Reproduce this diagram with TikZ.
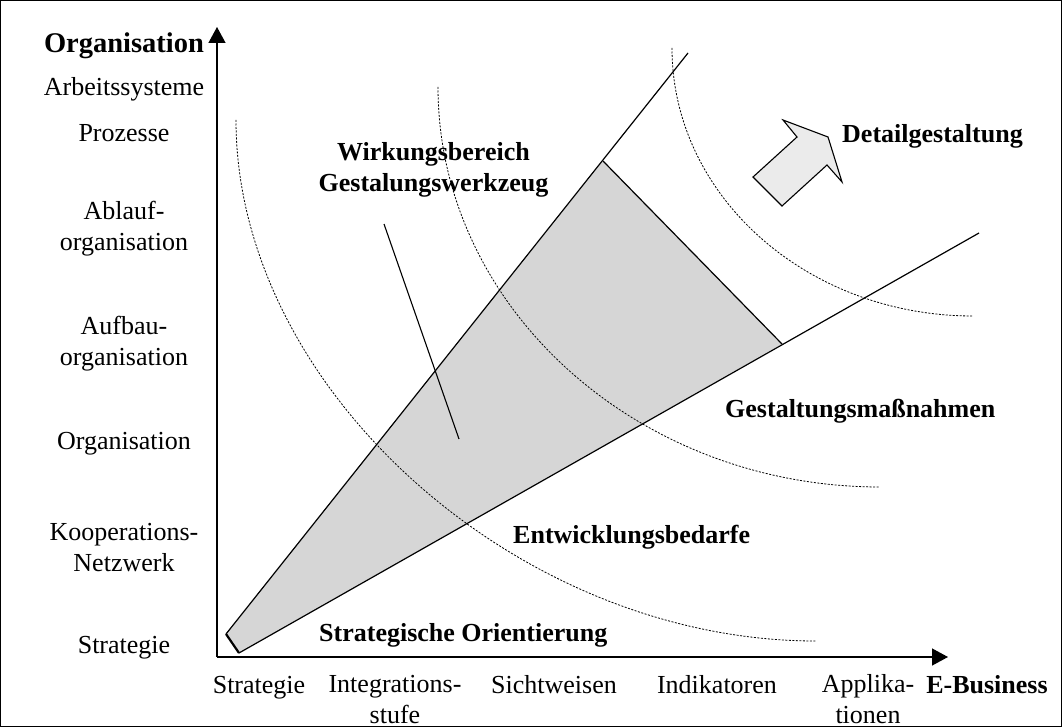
\documentclass[tikz,border=0pt]{standalone}
\usepackage{fontspec}
\setmainfont{Liberation Serif}
\usetikzlibrary{arrows.meta}
\definecolor{wedgefill}{gray}{0.84}
\definecolor{arrowfill}{gray}{0.92}
\begin{document}
\begin{tikzpicture}[x=1pt,y=-1pt,
  lbl/.style={font=\fontsize{26}{31}\selectfont, inner sep=0pt, anchor=base, align=center},
  blbl/.style={font=\fontsize{26}{31}\selectfont\bfseries, inner sep=0pt, anchor=base, align=center},
  blleft/.style={blbl, anchor=base west},
  solidline/.style={line width=1.2pt},
  axisline/.style={line width=1.3pt, -{Triangle[length=16pt,width=17pt]}},
  arcline/.style={line width=0.8pt, dash pattern=on 2pt off 1.5pt},
  blockarrow/.style={fill=arrowfill, draw=black, line width=1.1pt, line join=miter}]
\useasboundingbox (0,0) rectangle (1062,727);
\draw[line width=1.2pt] (0.6,0.6) rectangle (1061.4,726.4);

% wedge
\coordinate (apexU) at (226,634);
\coordinate (apexL) at (239,653);
\coordinate (topU) at (603,161);
\coordinate (topL) at (782,344);
\coordinate (endU) at (688,53);
\coordinate (endL) at (979,233);
\fill[wedgefill] (apexU) -- (topU) -- (topL) -- (apexL) -- cycle;

% dashed arcs
\coordinate (a1s) at (236,120); \coordinate (a1e) at (816,641);
\coordinate (a2s) at (438,87);  \coordinate (a2e) at (880,487);
\coordinate (a3s) at (672,48);  \coordinate (a3e) at (973,316);
\draw[arcline] (a1s) .. controls (236,388) and (517,641) .. (a1e);
\draw[arcline] (a2s) .. controls (438,307) and (637,487) .. (a2e);
\draw[arcline] (a3s) .. controls (672,196) and (807,316) .. (a3e);

\draw[solidline] (apexU) -- (endU);
\draw[solidline] (apexL) -- (endL);
\draw[solidline] (topU) -- (topL);
\draw[line width=2.2pt] (apexU) -- (apexL);

% axes
\coordinate (O) at (217,657);
\coordinate (Ytip) at (217,27);
\coordinate (Xtip) at (948,657);
\draw[axisline] (O) -- (Ytip);
\draw[axisline] (O) -- (Xtip);

% pointer line
\coordinate (p1) at (384,224);
\coordinate (p2) at (459,439);
\draw[line width=1.1pt] (p1) -- (p2);

% block arrow
\draw[blockarrow] (753,177) -- (797,137) -- (783,120) -- (828,137) -- (842,182) -- (827,165) -- (782,206) -- cycle;

% y-axis labels
\node[blbl, font=\fontsize{28.5}{33}\selectfont\bfseries] (yT) at (124,53) {Organisation};
\node[lbl] (y1) at (124,96) {Arbeitssysteme};
\node[lbl] (y2) at (124,142) {Prozesse};
\node[lbl] (y3) at (124,251) {Ablauf-\\organisation};
\node[lbl] (y4) at (124,365) {Aufbau-\\organisation};
\node[lbl] (y5) at (124,449) {Organisation};
\node[lbl] (y6) at (124,571) {Kooperations-\\Netzwerk};
\node[lbl] (y7) at (124,653) {Strategie};

% x-axis labels
\node[lbl] (x1) at (259,693) {Strategie};
\node[lbl] (x2) at (395,723) {Integrations-\\stufe};
\node[lbl] (x3) at (554,693) {Sichtweisen};
\node[lbl] (x4) at (717,693) {Indikatoren};
\node[lbl] (x5) at (868,723) {Applika-\\tionen};
\node[blbl] (xT) at (987,693) {E-Business};

% region labels
\node[blbl] (wb) at (433.5,192) {Wirkungsbereich\\Gestalungswerkzeug};
\node[blleft] (dg) at (842,143) {Detailgestaltung};
\node[blleft] (gm) at (725,417) {Gestaltungsmaßnahmen};
\node[blleft] (eb) at (513,543) {Entwicklungsbedarfe};
\node[blleft] (so) at (319,641) {Strategische Orientierung};
\end{tikzpicture}
\end{document}
